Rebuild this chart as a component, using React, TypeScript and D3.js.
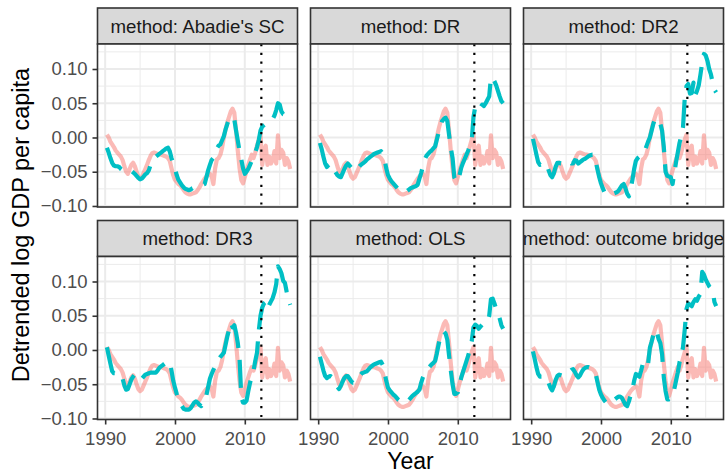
import React, { useEffect, useRef } from "react";
import * as d3 from "d3";

// quarterly time index, 1990 Q2 .. 2016 Q3
const quarters = d3.range(0, 106).map((i) => 1990.25 + i * 0.25);
const treatmentYear = 2012.37;

const methods = ["Abadie's SC", "DR", "DR2", "DR3", "OLS", "outcome bridge"];

// observed detrended log GDP (same in every panel)
const actualGdp = [
  0.004, 0.0, -0.006,
  -0.01, -0.014, -0.019, -0.022,
  -0.025, -0.028, -0.033, -0.042,
  -0.05, -0.053, -0.046, -0.04,
  -0.037, -0.042, -0.05, -0.057,
  -0.06, -0.058, -0.052, -0.046,
  -0.04, -0.033, -0.027, -0.023,
  -0.022, -0.023, -0.024, -0.025,
  -0.025, -0.026, -0.027, -0.028,
  -0.03, -0.034, -0.045, -0.055,
  -0.062, -0.065, -0.068, -0.07,
  -0.073, -0.077, -0.08, -0.082,
  -0.083, -0.083, -0.082, -0.081,
  -0.08, -0.077, -0.073, -0.068,
  -0.064, -0.06, -0.057, -0.055,
  -0.053, -0.056, -0.068, -0.045,
  -0.032, -0.03, -0.025, -0.015,
  0.0, 0.012, 0.022, 0.03,
  0.038, 0.042, 0.036, 0.01,
  -0.02, -0.045, -0.062, -0.067,
  -0.058, -0.048, -0.04, -0.032,
  -0.025, -0.03, -0.022, -0.012,
  -0.003, 0.004, -0.04, -0.02,
  -0.012, -0.04, -0.028, -0.038,
  -0.033, -0.02, -0.038, 0.003,
  -0.03, -0.018, -0.022, -0.04,
  -0.03, -0.035, -0.046,
];

const abadieSc = [
  -0.015, -0.022, -0.03,
  -0.037, -0.041, -0.042, -0.042,
  -0.043, -0.046, -0.048, -0.047,
  -0.046, -0.047, -0.048, -0.049,
  -0.051, -0.053, -0.056, -0.059,
  -0.061, -0.06, -0.057, -0.054,
  -0.052, -0.048, -0.04, -0.033,
  -0.03, -0.028, -0.026, -0.024,
  -0.022, -0.02, -0.018, -0.016,
  -0.015, -0.02, -0.03, -0.038,
  -0.045, -0.055, -0.062, -0.066,
  -0.07, -0.073, -0.075, -0.076,
  -0.077, -0.076, -0.074, -0.073,
  -0.072, -0.071, -0.07, -0.07,
  -0.069, -0.068, -0.058, -0.048,
  -0.04, -0.033, -0.03, -0.024,
  -0.016, -0.012, -0.01, -0.004,
  0.002, 0.012, 0.02, 0.027,
  0.025, 0.022, 0.026, 0.01,
  -0.005, -0.02, -0.032, -0.045,
  -0.053, -0.05, -0.046, -0.04,
  -0.034, -0.028, -0.022, -0.014,
  -0.004, 0.01, 0.016, 0.018,
  0.02, 0.02, 0.022, 0.024,
  0.027, 0.032, 0.04, 0.05,
  0.048, 0.038, 0.034, 0.033,
  0.031, 0.03, 0.029,
];

const dr = [
  -0.008, -0.017, -0.028,
  -0.038, -0.043, -0.04, -0.038,
  -0.042, -0.047, -0.051, -0.055,
  -0.057, -0.058, -0.052, -0.046,
  -0.041, -0.038, -0.041, -0.044,
  -0.047, -0.049, -0.047, -0.044,
  -0.041, -0.039, -0.037, -0.035,
  -0.032, -0.03, -0.028, -0.026,
  -0.024, -0.023, -0.022, -0.021,
  -0.02, -0.024, -0.031, -0.045,
  -0.055, -0.06, -0.064, -0.067,
  -0.07, -0.073, -0.076, -0.078,
  -0.079, -0.08, -0.08, -0.078,
  -0.076, -0.074, -0.073, -0.072,
  -0.071, -0.069, -0.06, -0.052,
  -0.042, -0.032, -0.027, -0.024,
  -0.021, -0.019, -0.016, -0.013,
  -0.003, 0.007, 0.017, 0.024,
  0.027, 0.029, 0.024, 0.004,
  -0.015, -0.03, -0.058, -0.063,
  -0.065, -0.055, -0.044, -0.037,
  -0.031, -0.025, -0.019, -0.011,
  -0.004, 0.03, 0.045, 0.043,
  0.04, 0.044, 0.048, 0.046,
  0.05, 0.055, 0.06, 0.088,
  0.087, 0.082, 0.076, 0.068,
  0.06, 0.053, 0.05,
];

const dr2 = [
  -0.002, -0.013, -0.025,
  -0.036, -0.04, -0.039, -0.038,
  -0.037, -0.04, -0.048, -0.055,
  -0.058, -0.052, -0.043, -0.037,
  -0.037, -0.038, -0.038, -0.038,
  -0.036, -0.034, -0.036, -0.038,
  -0.038, -0.033, -0.034, -0.038,
  -0.036, -0.034, -0.032, -0.031,
  -0.029, -0.027, -0.026, -0.025,
  -0.025, -0.035, -0.047, -0.058,
  -0.067, -0.074, -0.08, -0.083,
  -0.084, -0.084, -0.083, -0.082,
  -0.081, -0.08, -0.078, -0.074,
  -0.07, -0.068, -0.074, -0.082,
  -0.086, -0.075, -0.062, -0.046,
  -0.034, -0.03, -0.028, -0.026,
  -0.025, -0.022, -0.013, -0.006,
  0.0, 0.01, 0.02, 0.027,
  0.028, 0.026, 0.02, 0.01,
  -0.014, -0.05, -0.056, -0.057,
  -0.058, -0.068, -0.052, -0.036,
  -0.022, -0.008, 0.002, 0.015,
  0.058, 0.075, 0.078, 0.064,
  0.065, 0.08, 0.062, 0.068,
  0.076, 0.092, 0.11, 0.122,
  0.12, 0.112, 0.1, 0.092,
  0.08, 0.07, 0.066,
];

const dr3 = [
  0.004, -0.008, -0.02,
  -0.031, -0.034, -0.034, -0.034,
  -0.034, -0.035, -0.042, -0.052,
  -0.058, -0.057, -0.05, -0.043,
  -0.039, -0.036, -0.035, -0.039,
  -0.043, -0.042, -0.039, -0.036,
  -0.035, -0.034, -0.033, -0.033,
  -0.033, -0.033, -0.03, -0.026,
  -0.024, -0.022, -0.02, -0.019,
  -0.018, -0.017, -0.03, -0.045,
  -0.055, -0.064, -0.072, -0.078,
  -0.082, -0.086, -0.087, -0.087,
  -0.087, -0.085, -0.081, -0.077,
  -0.075, -0.077, -0.08, -0.082,
  -0.08, -0.078, -0.066, -0.054,
  -0.042, -0.035, -0.029, -0.024,
  -0.02, -0.014, -0.01, -0.007,
  -0.004, 0.008, 0.02, 0.03,
  0.04, 0.033, 0.036, 0.025,
  0.01, -0.012, -0.069, -0.077,
  -0.077, -0.074, -0.06, -0.048,
  -0.038, -0.03, -0.016, -0.004,
  0.028, 0.05, 0.062, 0.068,
  0.07, 0.06, 0.066, 0.071,
  0.076, 0.084, 0.096, 0.122,
  0.118, 0.112, 0.101, 0.098,
  0.085, 0.074, 0.066,
];

const ols = [
  -0.01, -0.02, -0.03,
  -0.038, -0.041, -0.039, -0.038,
  -0.04, -0.044, -0.049, -0.054,
  -0.057, -0.052, -0.046, -0.041,
  -0.038, -0.038, -0.042, -0.046,
  -0.048, -0.048, -0.044, -0.04,
  -0.037, -0.034, -0.033, -0.032,
  -0.031, -0.028, -0.025, -0.023,
  -0.021, -0.02, -0.019, -0.018,
  -0.017, -0.022, -0.032, -0.045,
  -0.055, -0.059, -0.062, -0.065,
  -0.067, -0.07, -0.073, -0.075,
  -0.076, -0.077, -0.077, -0.075,
  -0.073, -0.07, -0.067, -0.065,
  -0.063, -0.061, -0.058, -0.048,
  -0.04, -0.035, -0.031, -0.027,
  -0.024, -0.021, -0.019, -0.016,
  -0.005, 0.008, 0.02, 0.026,
  0.027, 0.024, 0.015, -0.008,
  -0.03, -0.05, -0.064, -0.064,
  -0.062, -0.052, -0.04, -0.032,
  -0.024, -0.016, -0.008, 0.002,
  0.013, 0.033, 0.037, 0.035,
  0.031, 0.034, 0.037, 0.04,
  0.04, 0.041, 0.05, 0.074,
  0.075, 0.068, 0.06, 0.055,
  0.046, 0.036, 0.031,
];

const outcomeBridge = [
  -0.002, -0.013, -0.025,
  -0.035, -0.039, -0.039, -0.038,
  -0.038, -0.041, -0.048, -0.055,
  -0.059, -0.053, -0.044, -0.038,
  -0.036, -0.037, -0.038, -0.038,
  -0.037, -0.034, -0.031, -0.029,
  -0.028, -0.032, -0.037, -0.04,
  -0.037, -0.032, -0.028, -0.026,
  -0.025, -0.025, -0.026, -0.028,
  -0.03, -0.035, -0.047, -0.058,
  -0.065, -0.07, -0.074, -0.077,
  -0.079, -0.078, -0.076, -0.074,
  -0.072, -0.07, -0.068, -0.068,
  -0.07, -0.075, -0.08, -0.082,
  -0.075, -0.066, -0.058, -0.045,
  -0.035, -0.037, -0.039, -0.03,
  -0.02, -0.018, -0.024, -0.02,
  0.003, 0.012, 0.022, 0.03,
  0.026, 0.016, 0.01, -0.006,
  -0.04, -0.06, -0.072, -0.072,
  -0.071, -0.068, -0.057, -0.045,
  -0.033, -0.018, -0.008, 0.004,
  0.03, 0.06, 0.068, 0.066,
  0.064, 0.07, 0.074, 0.072,
  0.078, 0.082, 0.114, 0.11,
  0.103, 0.098, 0.093, 0.09,
  0.087, 0.07, 0.064,
];

const synthetic = [abadieSc, dr, dr2, dr3, ols, outcomeBridge];

const xMajor = [1990, 2000, 2010];
const xMinor = [1995, 2005, 2015];
const yMajor = [-0.1, -0.05, 0, 0.05, 0.1];
const yMinor = [-0.075, -0.025, 0.025, 0.075, 0.125];

const W = 725;
const H = 472;
const colLeft = [97.5, 310.5, 523.5];
const rowTop = [8, 220.5];
const stripH = 36;
const panelW = 200;
const panelH = 163;
const font = "'Liberation Sans', Arial, Helvetica, sans-serif";

const App = () => {
  const ref = useRef(null);

  useEffect(() => {
    const svg = d3.select(ref.current);
    svg.selectAll("*").remove();

    const x = d3.scaleLinear().domain([1988.9, 2017.55]).range([0, panelW]);
    const y = d3.scaleLinear().domain([-0.1015, 0.1365]).range([panelH, 0]);
    const line = d3
      .line<number>()
      .x((_, i) => x(quarters[i]))
      .y((d) => y(d));

    svg.append("rect").attr("width", W).attr("height", H).attr("fill", "white");

    methods.forEach((m, k) => {
      const col = k % 3;
      const row = Math.floor(k / 3);
      const g = svg
        .append("g")
        .attr("transform", `translate(${colLeft[col]},${rowTop[row]})`);

      // strip
      const clipId = `strip-clip-${k}`;
      g.append("clipPath")
        .attr("id", clipId)
        .append("rect")
        .attr("width", panelW)
        .attr("height", stripH);
      g.append("rect")
        .attr("width", panelW)
        .attr("height", stripH)
        .attr("fill", "#D9D9D9");
      g.append("text")
        .attr("clip-path", `url(#${clipId})`)
        .attr("x", panelW / 2)
        .attr("y", stripH / 2)
        .attr("dy", "0.35em")
        .attr("text-anchor", "middle")
        .attr("font-family", font)
        .attr("font-size", 18.7)
        .attr("fill", "#1A1A1A")
        .text(`method: ${m}`);
      g.append("rect")
        .attr("width", panelW)
        .attr("height", stripH)
        .attr("fill", "none")
        .attr("stroke", "#333333")
        .attr("stroke-width", 1.6);

      const p = g.append("g").attr("transform", `translate(0,${stripH})`);
      const panelClip = `panel-clip-${k}`;
      p.append("clipPath")
        .attr("id", panelClip)
        .append("rect")
        .attr("width", panelW)
        .attr("height", panelH);

      p.append("rect").attr("width", panelW).attr("height", panelH).attr("fill", "white");

      // grid
      p.selectAll(".ymin")
        .data(yMinor)
        .join("line")
        .attr("x1", 0)
        .attr("x2", panelW)
        .attr("y1", (d) => y(d))
        .attr("y2", (d) => y(d))
        .attr("stroke", "#EBEBEB")
        .attr("stroke-width", 1);
      p.selectAll(".xmin")
        .data(xMinor)
        .join("line")
        .attr("y1", 0)
        .attr("y2", panelH)
        .attr("x1", (d) => x(d))
        .attr("x2", (d) => x(d))
        .attr("stroke", "#EBEBEB")
        .attr("stroke-width", 1);
      p.selectAll(".ymaj")
        .data(yMajor)
        .join("line")
        .attr("x1", 0)
        .attr("x2", panelW)
        .attr("y1", (d) => y(d))
        .attr("y2", (d) => y(d))
        .attr("stroke", "#EBEBEB")
        .attr("stroke-width", 2);
      p.selectAll(".xmaj")
        .data(xMajor)
        .join("line")
        .attr("y1", 0)
        .attr("y2", panelH)
        .attr("x1", (d) => x(d))
        .attr("x2", (d) => x(d))
        .attr("stroke", "#EBEBEB")
        .attr("stroke-width", 2);

      const lines = p.append("g").attr("clip-path", `url(#${panelClip})`);
      lines
        .append("path")
        .datum(actualGdp)
        .attr("d", line)
        .attr("fill", "none")
        .attr("stroke", "#F8766D")
        .attr("stroke-opacity", 0.5)
        .attr("stroke-width", 4.2)
        .attr("stroke-linejoin", "round");
      lines
        .append("path")
        .datum(synthetic[k])
        .attr("d", line)
        .attr("fill", "none")
        .attr("stroke", "#00BFC4")
        .attr("stroke-width", 4.2)
        .attr("stroke-linejoin", "round")
        .attr("stroke-dasharray", "28,12");
      lines
        .append("line")
        .attr("x1", x(treatmentYear))
        .attr("x2", x(treatmentYear))
        .attr("y1", 0)
        .attr("y2", panelH)
        .attr("stroke", "black")
        .attr("stroke-width", 2.2)
        .attr("stroke-dasharray", "2.2,6.6");

      p.append("rect")
        .attr("width", panelW)
        .attr("height", panelH)
        .attr("fill", "none")
        .attr("stroke", "#333333")
        .attr("stroke-width", 1.6);

      const styleAxis = (a) => {
        a.select(".domain").remove();
        a.selectAll(".tick line").attr("stroke", "#333333").attr("stroke-width", 1.6);
        a.selectAll(".tick text")
          .attr("fill", "#4D4D4D")
          .attr("font-family", font)
          .attr("font-size", 18.5);
      };

      if (col === 0) {
        p.append("g")
          .call(
            d3
              .axisLeft(y)
              .tickValues(yMajor)
              .tickSize(5)
              .tickPadding(5)
              .tickFormat(d3.format(".2f"))
          )
          .call(styleAxis);
      }
      if (row === 1) {
        p.append("g")
          .attr("transform", `translate(0,${panelH})`)
          .call(
            d3
              .axisBottom(x)
              .tickValues(xMajor)
              .tickSize(5)
              .tickPadding(7)
              .tickFormat(d3.format("d"))
          )
          .call(styleAxis);
      }
    });

    svg
      .append("text")
      .attr("x", (colLeft[0] + colLeft[2] + panelW) / 2)
      .attr("y", 468.5)
      .attr("text-anchor", "middle")
      .attr("font-family", font)
      .attr("font-size", 23)
      .attr("fill", "black")
      .text("Year");

    svg
      .append("text")
      .attr("transform", "translate(28.5,225) rotate(-90)")
      .attr("text-anchor", "middle")
      .attr("font-family", font)
      .attr("font-size", 23.5)
      .attr("fill", "black")
      .text("Detrended log GDP per capita");
  }, []);

  return (
    <svg
      ref={ref}
      width={W}
      height={H}
      style={{ position: "absolute", left: 0, top: 0, display: "block" }}
    />
  );
};

export default App;
